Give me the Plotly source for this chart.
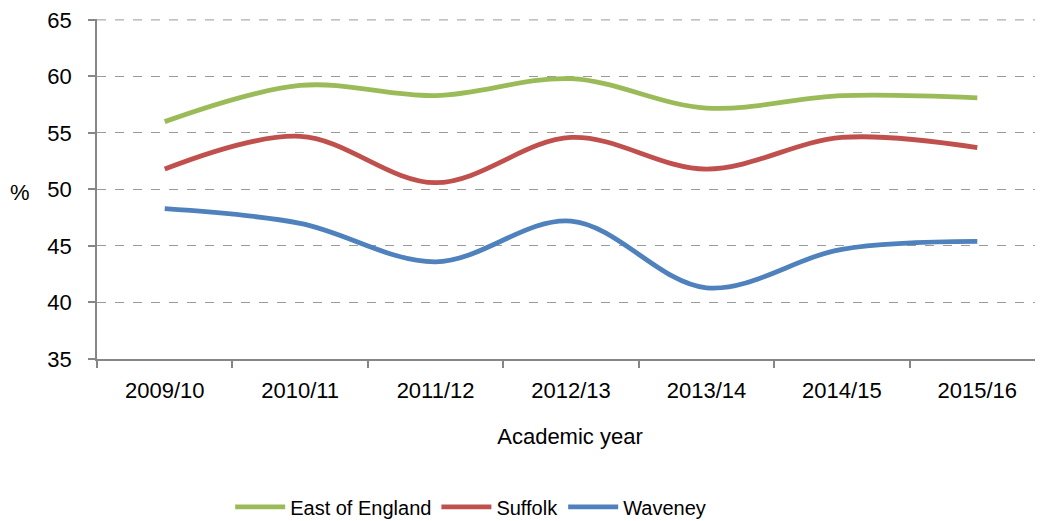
import plotly.graph_objects as go

years = ["2009/10", "2010/11", "2011/12", "2012/13", "2013/14", "2014/15", "2015/16"]
east_of_england = [56.0, 59.2, 58.3, 59.8, 57.2, 58.3, 58.1]
suffolk = [51.8, 54.7, 50.6, 54.6, 51.8, 54.6, 53.7]
waveney = [48.3, 47.0, 43.6, 47.2, 41.3, 44.7, 45.4]

series = [
    ("East of England", east_of_england, "#9BBB59"),
    ("Suffolk", suffolk, "#C0504D"),
    ("Waveney", waveney, "#4F81BD"),
]

FONT = "Liberation Sans"
FS = 22
GRID = "#9a9a9a"
fig = go.Figure()
for name, vals, col in series:
    fig.add_trace(go.Scatter(
        x=years, y=vals, name=name, mode="lines",
        line=dict(color=col, width=4.8, shape="spline", smoothing=1.0),
    ))

# page body has an 8px margin: figure is offset by 8px, so compensate
fig.update_layout(
    width=1035, height=513,
    margin=dict(l=89, r=0, t=11, b=162, autoexpand=False),
    paper_bgcolor="white", plot_bgcolor="white",
    font=dict(family=FONT, size=FS, color="#000000"),
    showlegend=True,
    legend=dict(orientation="h", x=0.395, xanchor="center", y=-0.435, yanchor="middle",
                font=dict(family=FONT, size=20), itemwidth=50, tracegroupgap=0),
    annotations=[dict(text="%", xref="paper", yref="paper", x=-0.081, y=0.49,
                      xanchor="center", yanchor="middle", showarrow=False,
                      font=dict(family=FONT, size=FS))],
    shapes=[dict(type="line", xref="paper", yref="y", x0=0, x1=1, y0=65, y1=65,
                 line=dict(color=GRID, width=1, dash="dash"), layer="below")],
)
fig.update_xaxes(
    type="category", range=[-0.5, 6.485], automargin=False,
    showline=True, linecolor="#868686", linewidth=1.5,
    ticks="outside", tickson="boundaries", ticklen=7, tickcolor="#868686", tickwidth=1.5,
    showgrid=False, zeroline=False, ticklabelstandoff=11,
    tickfont=dict(family=FONT, size=FS),
    title=dict(text="Academic year", font=dict(family=FONT, size=FS), standoff=26),
)
fig.update_yaxes(
    range=[35, 65.08], dtick=5, tick0=35, automargin=False,
    showline=True, linecolor="#868686", linewidth=1.5,
    ticks="outside", ticklen=7, tickcolor="#868686", tickwidth=1.5,
    showgrid=True, gridcolor=GRID, griddash="dash", gridwidth=1,
    zeroline=False, ticklabelstandoff=12, ticklabeloverflow="allow",
    tickfont=dict(family=FONT, size=FS),
)
fig.write_html("out.html")
